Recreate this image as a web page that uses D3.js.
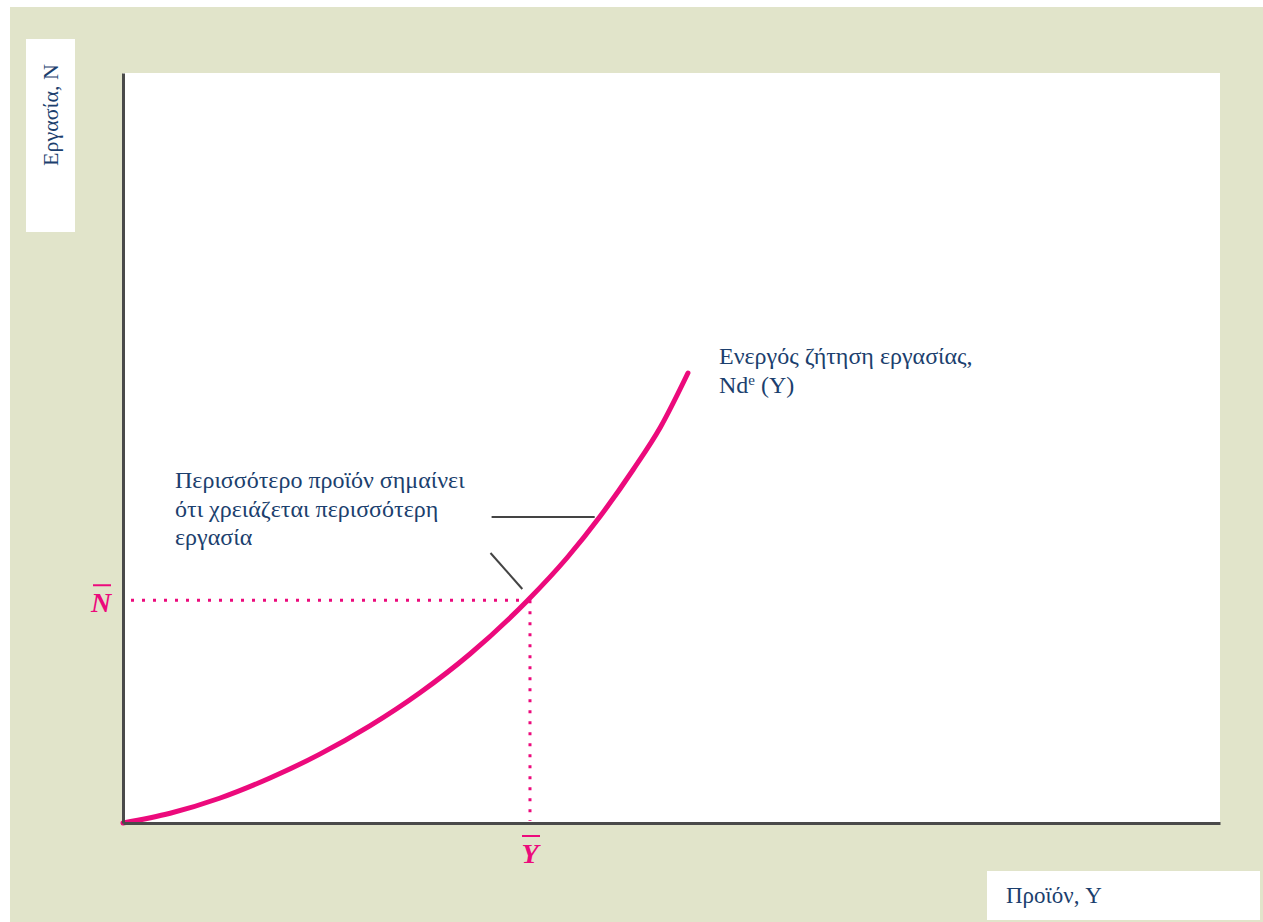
<!DOCTYPE html>
<html>
<head>
<meta charset="utf-8">
<script src="https://cdn.jsdelivr.net/npm/d3@7"></script>
<style>
  html, body { margin: 0; padding: 0; background: #ffffff; }
  svg { display: block; }
</style>
</head>
<body>
<svg id="chart" width="1263" height="922"></svg>
<script>
// ---- data (in chart units: output Y 0..100, labour N 0..100) ----
const curveY = [0, 4.3, 8.8, 13.4, 17.9, 22.5, 27.1, 31.6, 36.9, 40.5, 43.5, 46.5, 49.0, 51.5];
const curveN = [0, 1.3, 3.3, 6.0, 9.15, 12.95, 17.4, 22.5, 29.7, 35.4, 40.9, 47.1, 52.8, 60.0];
const markY = [37.1];          // Ȳ
const markN = [29.7];          // N̄
const leaderH = [[33.6, 40.8], [43.0, 40.8]];
const leaderD = [[33.5, 36.0], [36.4, 31.2]];
const curveLabel = ["Ενεργός ζήτηση εργασίας,", "Nd", "e", " (Y)"];
const noteLines = ["Περισσότερο προϊόν σημαίνει", "ότι χρειάζεται περισσότερη", "εργασία"];
const yTitle = "Εργασία, N";
const xTitle = "Προϊόν, Y";
const markLabels = ["N", "Y"];

const svg = d3.select("#chart");
const W = 1263, H = 922;
const bg = "#e1e4ca", ink = "#1c3f6e", mag = "#ec0a7c", axisC = "#4a4a4a";
const serif = "'Liberation Serif','Times New Roman',serif";

svg.append("rect").attr("x", 10).attr("y", 7).attr("width", W - 10).attr("height", H - 7).attr("fill", bg);

const plot = {left: 123, right: 1220, top: 73, bottom: 823};
svg.append("rect").attr("x", plot.left).attr("y", plot.top)
  .attr("width", plot.right - plot.left).attr("height", plot.bottom - plot.top).attr("fill", "#fff");

const x = d3.scaleLinear().domain([0, 100]).range([plot.left, plot.right]);
const y = d3.scaleLinear().domain([0, 100]).range([plot.bottom, plot.top]);

// dotted guides
const dot = g => g.attr("stroke", mag).attr("stroke-width", 3).attr("stroke-dasharray", "3,8").attr("fill", "none");
svg.append("line").attr("x1", x(0) + 8).attr("x2", x(markY[0])).attr("y1", y(markN[0])).attr("y2", y(markN[0])).call(dot);
svg.append("line").attr("x1", x(markY[0])).attr("x2", x(markY[0])).attr("y1", y(markN[0])).attr("y2", y(0) - 2).call(dot);

// leader lines
const ll = d3.line().x(d => x(d[0])).y(d => y(d[1]));
[leaderH, leaderD].forEach(p => svg.append("path").attr("d", ll(p)).attr("stroke", "#444").attr("stroke-width", 2).attr("fill", "none"));

// curve
const pts = curveY.map((v, i) => [v, curveN[i]]);
svg.append("path").attr("d", d3.line().x(d => x(d[0])).y(d => y(d[1])).curve(d3.curveMonotoneX)(pts))
  .attr("stroke", mag).attr("stroke-width", 5).attr("fill", "none").attr("stroke-linecap", "round");

// axes
const ax = svg.append("g").attr("transform", `translate(0,${plot.bottom})`)
  .call(d3.axisBottom(x).tickValues([]).tickSizeOuter(0));
const ay = svg.append("g").attr("transform", `translate(${plot.left},0)`)
  .call(d3.axisLeft(y).tickValues([]).tickSizeOuter(0));
[ax, ay].forEach(g => g.select(".domain").attr("stroke", axisC).attr("stroke-width", 3));

// marks labels
const bar = (lab, cx, by) => {
  svg.append("text").attr("x", cx).attr("y", by).attr("text-anchor", "middle")
    .attr("font-family", serif).attr("font-weight", "bold").attr("font-style", "italic")
    .attr("font-size", 28).attr("fill", mag).text(lab);
  svg.append("line").attr("x1", cx - 8).attr("x2", cx + 10).attr("y1", by - 27).attr("y2", by - 27)
    .attr("stroke", mag).attr("stroke-width", 2);
};
bar(markLabels[0], 101, y(markN[0]) + 12);
bar(markLabels[1], x(markY[0]), 863);

// curve label
const cl = svg.append("text").attr("font-family", serif).attr("font-size", 24).attr("fill", ink);
cl.append("tspan").attr("x", 719).attr("y", 364).text(curveLabel[0]);
cl.append("tspan").attr("x", 719).attr("y", 393).text(curveLabel[1]);
cl.append("tspan").attr("dy", -8).attr("font-size", 15).text(curveLabel[2]);
cl.append("tspan").attr("dy", 8).text(curveLabel[3]);

// note
const nt = svg.append("text").attr("font-family", serif).attr("font-size", 24).attr("fill", ink);
noteLines.forEach((s, i) => nt.append("tspan").attr("x", 175).attr("y", 488 + i * 28.5).text(s));

// axis titles
svg.append("rect").attr("x", 26).attr("y", 39).attr("width", 49).attr("height", 193).attr("fill", "#fff");
svg.append("text").attr("transform", "translate(58,115) rotate(-90)").attr("text-anchor", "middle")
  .attr("font-family", serif).attr("font-size", 22).attr("fill", ink).text(yTitle);
svg.append("rect").attr("x", 987).attr("y", 871).attr("width", 273).attr("height", 49).attr("fill", "#fff");
svg.append("text").attr("x", 1006).attr("y", 903)
  .attr("font-family", serif).attr("font-size", 23).attr("fill", ink).text(xTitle);
</script>
</body>
</html>
